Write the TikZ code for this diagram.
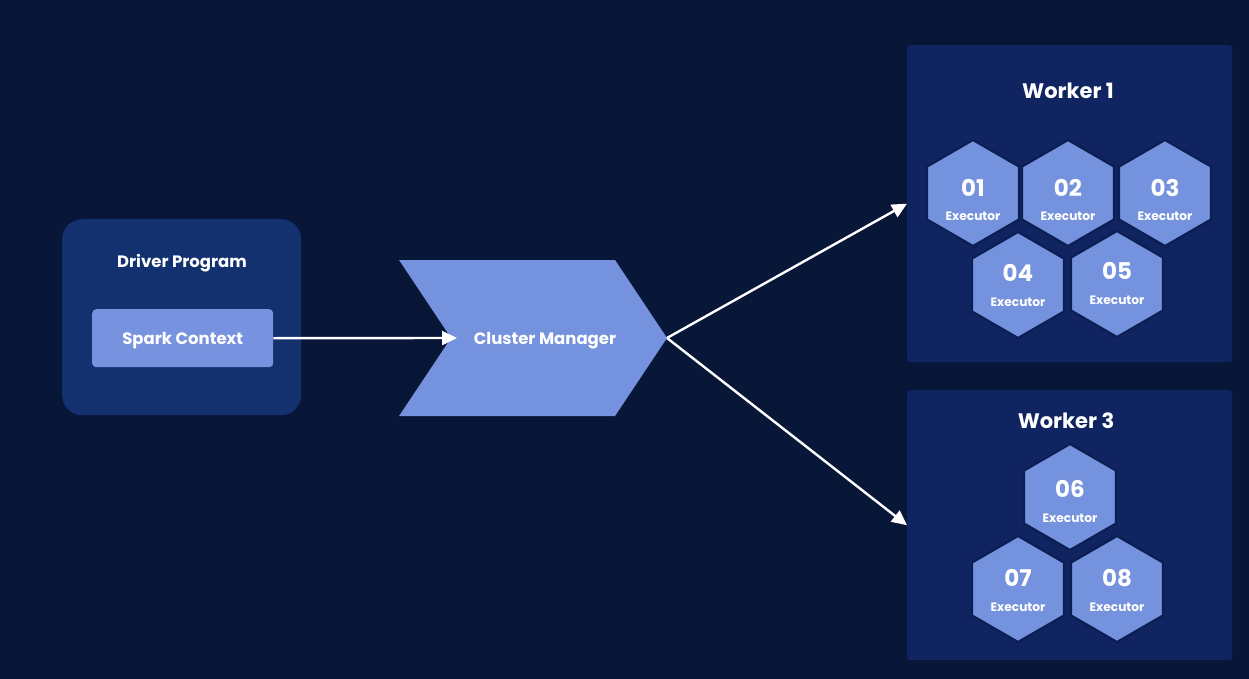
\documentclass[tikz,border=0pt]{standalone}
\usepackage{fontspec}
\setmainfont{Poppins}
\usetikzlibrary{shapes.geometric,arrows.meta}
\definecolor{bgc}{HTML}{081638}
\definecolor{workerc}{HTML}{0F2461}
\definecolor{driverc}{HTML}{13306F}
\definecolor{hexc}{HTML}{7592DE}
\definecolor{hexline}{HTML}{0C1F52}
\definecolor{lightc}{HTML}{7793E0}
\tikzset{
  box/.style={draw=none, fill=#1, inner sep=0pt, anchor=north west},
  hexa/.style={regular polygon, regular polygon sides=6, shape border rotate=30,
    minimum size=106pt, inner sep=0pt, fill=hexc, draw=hexline, line width=2.2pt},
  num/.style={text=white, font=\bfseries\fontsize{23}{26}\selectfont, inner sep=0pt},
  exe/.style={text=white, font=\bfseries\fontsize{12.2}{14}\selectfont, inner sep=0pt},
  ttl/.style={text=white, font=\bfseries\fontsize{#1}{#1}\selectfont, inner sep=0pt},
  arr/.style={draw=white, line width=2.4pt, -{Triangle[length=15pt,width=14pt]}},
}
\begin{document}
\begin{tikzpicture}[x=1pt,y=-1pt]
\fill[bgc] (0,0) rectangle (1249,679);
\useasboundingbox (0,0) rectangle (1249,679);

% Driver program
\node[box=driverc, rounded corners=20pt, minimum width=239pt, minimum height=196pt] (drv) at (62,219) {};
\node[ttl=16.5] (drvt) at (182,263) {Driver Program};
\node[box=lightc, rounded corners=4pt, minimum width=181pt, minimum height=58pt] (sc) at (92,309) {};
\node[ttl=16.5] (sct) at ([yshift=-2pt]sc.center) {Spark Context};

% Cluster manager chevron
\fill[hexc] (399,260) -- (615,260) -- (667,338) -- (615,416) -- (399,416) -- (451,338) -- cycle;
\coordinate (cmtip) at (667,338);
\coordinate (cmin) at (457,338);
\node[ttl=16.5] (cm) at (545,341) {Cluster Manager};

% Workers
\node[box=workerc, rounded corners=3pt, minimum width=325pt, minimum height=317pt] (w1) at (907,45) {};
\node[ttl=21] (w1t) at (1068,91) {Worker 1};
\node[box=workerc, rounded corners=3pt, minimum width=325pt, minimum height=270pt] (w3) at (907,390) {};
\node[ttl=21] (w3t) at (1066,421) {Worker 3};

% Hexagons
\foreach \n/\x/\y/\ny/\ey in {01/973/193/188/216, 02/1068/193/188/216, 03/1165/193/188/216,
    04/1018/285/273/302, 05/1117/284/271/300, 06/1070/497/489/518, 07/1018/589/578/607, 08/1117/589/578/607}{
  \node[hexa] (h\n) at (\x,\y) {};
  \node[num] (n\n) at (\x,\ny) {\n};
  \node[exe] (e\n) at (\x,\ey) {Executor};
}

% Connectors
\draw[arr] (sc.east) -- (cmin);
\draw[arr] (cmtip) -- (w1.west);
\draw[arr] (cmtip) -- (w3.west);
\end{tikzpicture}
\end{document}
